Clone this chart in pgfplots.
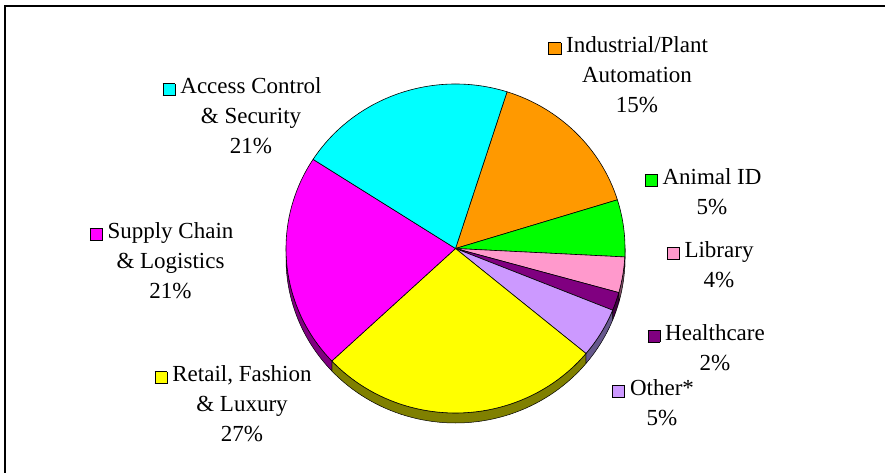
\documentclass[border=0pt]{standalone}
\usepackage{pgfplots}
\pgfplotsset{compat=1.18}
\usepackage{pgfplotstable}
\usepackage{fontspec}
\setmainfont{Liberation Serif}

\definecolor{cOrange}{RGB}{255,153,0}
\definecolor{cGreen}{RGB}{0,255,0}
\definecolor{cPink}{RGB}{255,153,204}
\definecolor{cPurple}{RGB}{128,0,128}
\definecolor{cLav}{RGB}{204,153,255}
\definecolor{cYellow}{RGB}{255,255,0}
\definecolor{cMag}{RGB}{255,0,255}
\definecolor{cCyan}{RGB}{0,255,255}
\definecolor{cOrangeD}{RGB}{128,77,0}
\definecolor{cGreenD}{RGB}{0,128,0}
\definecolor{cPinkD}{RGB}{128,77,102}
\definecolor{cPurpleD}{RGB}{64,0,64}
\definecolor{cLavD}{RGB}{102,88,140}
\definecolor{cYellowD}{RGB}{128,128,0}
\definecolor{cMagD}{RGB}{128,0,128}
\definecolor{cCyanD}{RGB}{0,128,128}

% share in percent, clockwise from the orange/cyan boundary
\pgfplotstableread{
name value top side
Industrial 15.3 cOrange cOrangeD
Animal 5.6 cGreen cGreenD
Library 3.5 cPink cPinkD
Healthcare 1.8 cPurple cPurpleD
Other 4.9 cLav cLavD
Retail 27.0 cYellow cYellowD
Supply 21.1 cMag cMagD
Access 20.8 cCyan cCyanD
}\piedata

\setlength{\fboxsep}{0pt}
\setlength{\fboxrule}{0.6pt}
\newcommand\key[1]{\llap{\raisebox{-1.5pt}{\fcolorbox{black}{#1}{\hbox to 11.5pt{\vrule height 11.5pt depth 0pt width 0pt\hfil}}}\hspace{5pt}}}

\def\cx{455.5}\def\cy{223.5}\def\rx{169.5}\def\ry{164.5}\def\dep{10}

\begin{document}
\begin{tikzpicture}[lab/.style={align=center, font=\fontsize{23}{30}\selectfont, inner sep=0pt, anchor=center}]
\useasboundingbox (0,0) rectangle (885pt,472pt);
\begin{axis}[
  at={(0,0)}, anchor=south west,
  width=885pt, height=472pt, scale only axis,
  xmin=0, xmax=885, ymin=0, ymax=472,
  hide axis,
]
\pgfplotstablegetrowsof{\piedata}
\pgfmathtruncatemacro\nlast{\pgfplotsretval-1}
% sides (3D depth)
\def\angstart{72.3}
\pgfplotsforeachungrouped \k in {0,...,\nlast}{%
  \pgfplotstablegetelem{\k}{value}\of\piedata\let\val\pgfplotsretval
  \pgfplotstablegetelem{\k}{side}\of\piedata\let\sidecol\pgfplotsretval
  \pgfmathsetmacro\angend{\angstart-3.6*\val}%
  \pgfmathsetmacro\lo{max(\angend,-180)}%
  \pgfmathsetmacro\hi{min(\angstart,0)}%
  \pgfmathsetmacro\px{\cx+\rx*cos(\hi)}%
  \pgfmathsetmacro\py{\cy+\ry*sin(\hi)}%
  \pgfmathtruncatemacro\vis{\hi>\lo ? 1 : 0}%
  \ifnum\vis=1
    \edef\temp{\noexpand\filldraw[fill=\sidecol,draw=black,line width=0.5pt,line join=round] (axis cs:\px,\py) arc[start angle=\hi,end angle=\lo,x radius=\rx pt,y radius=\ry pt] -- ++(0pt,-\dep pt) arc[start angle=\lo,end angle=\hi,x radius=\rx pt,y radius=\ry pt] -- cycle;}%
    \temp
  \fi
  \let\angstart\angend
}
% top faces
\def\angstart{72.3}
\pgfplotsforeachungrouped \k in {0,...,\nlast}{%
  \pgfplotstablegetelem{\k}{value}\of\piedata\let\val\pgfplotsretval
  \pgfplotstablegetelem{\k}{top}\of\piedata\let\topcol\pgfplotsretval
  \pgfmathsetmacro\angend{\angstart-3.6*\val}%
  \pgfmathsetmacro\px{\cx+\rx*cos(\angstart)}%
  \pgfmathsetmacro\py{\cy+\ry*sin(\angstart)}%
  \edef\temp{\noexpand\filldraw[fill=\topcol,draw=black,line width=0.6pt,line join=round] (axis cs:\cx,\cy) -- (axis cs:\px,\py) arc[start angle=\angstart,end angle=\angend,x radius=\rx pt,y radius=\ry pt] -- cycle;}%
  \temp
  \let\angstart\angend
}
% frame (top and left edges)
\draw[line width=2pt, black] (axis cs:5,-10) -- (axis cs:5,466) -- (axis cs:895,466);
% labels
\node[lab] at (axis cs:637,397) {\key{cOrange}Industrial/Plant\\Automation\\15\%};
\node[lab] at (axis cs:251,356) {\key{cCyan}Access Control\\\& Security\\21\%};
\node[lab] at (axis cs:712,280.5) {\key{cGreen}Animal ID\\5\%};
\node[lab] at (axis cs:719,207) {\key{cPink}Library\\4\%};
\node[lab] at (axis cs:170.5,211) {\key{cMag}Supply Chain\\\& Logistics\\21\%};
\node[lab] at (axis cs:715,124.5) {\key{cPurple}Healthcare\\2\%};
\node[lab] at (axis cs:242,68) {\key{cYellow}Retail, Fashion\\\& Luxury\\27\%};
\node[lab] at (axis cs:662,69) {\key{cLav}Other*\\5\%};
\end{axis}
\end{tikzpicture}
\end{document}
